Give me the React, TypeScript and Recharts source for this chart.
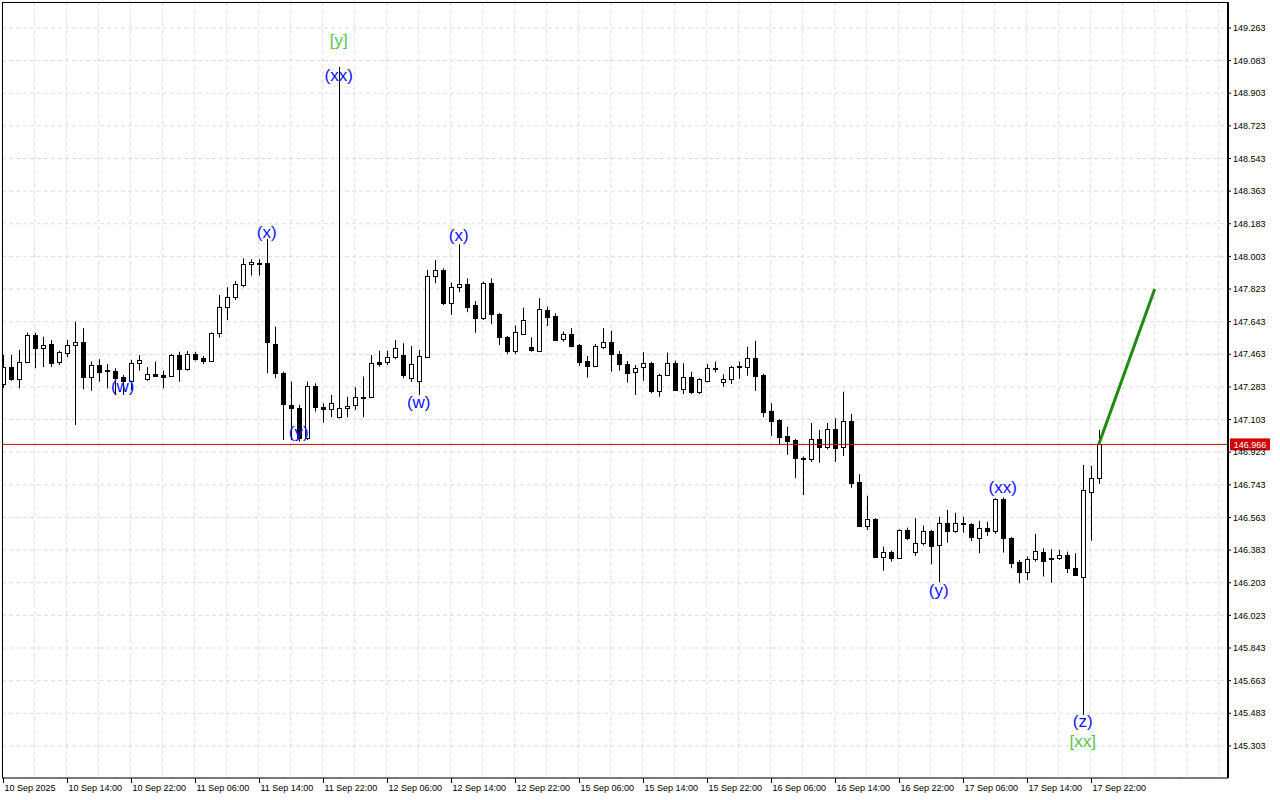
import React from "react"
import {
  ComposedChart,
  Bar,
  Scatter,
  XAxis,
  YAxis,
  CartesianGrid,
  ReferenceLine,
} from "recharts"

// --- H1 candles, 10 Sep 06:00 .. 17 Sep 23:00 ---
const opens = [
  147.299, 147.392, 147.326, 147.423, 147.570, 147.496, 147.520, 147.423, 147.472, 147.512,
  147.529, 147.336, 147.404, 147.374, 147.371, 147.336, 147.317, 147.414, 147.326, 147.353,
  147.349, 147.345, 147.459, 147.382, 147.463, 147.441, 147.426, 147.579, 147.722, 147.777,
  147.845, 147.960, 147.968, 147.965, 147.520, 147.362, 147.184, 147.165, 147.000, 147.288,
  147.171, 147.160, 147.119, 147.165, 147.184, 147.224, 147.229, 147.419, 147.419, 147.446,
  147.459, 147.332, 147.316, 147.450, 147.895, 147.928, 147.748, 147.836, 147.849, 147.735,
  147.665, 147.855, 147.684, 147.557, 147.483, 147.577, 147.502, 147.483, 147.708, 147.675,
  147.546, 147.575, 147.514, 147.426, 147.400, 147.505, 147.529, 147.463, 147.410, 147.364,
  147.392, 147.415, 147.262, 147.349, 147.414, 147.270, 147.336, 147.254, 147.317, 147.382,
  147.312, 147.329, 147.399, 147.395, 147.441, 147.349, 147.151, 147.101, 147.013, 146.990,
  146.893, 146.888, 146.994, 146.954, 147.049, 146.950, 147.095, 146.757, 146.518, 146.553,
  146.347, 146.371, 146.338, 146.494, 146.371, 146.421, 146.489, 146.411, 146.531, 146.490,
  146.531, 146.526, 146.448, 146.507, 146.490, 146.663, 146.448, 146.316, 146.264, 146.332,
  146.373, 146.340, 146.338, 146.356, 146.286, 146.236, 146.702, 146.779,
]
const highs = [
  147.459, 147.459, 147.487, 147.582, 147.581, 147.560, 147.542, 147.483, 147.542, 147.643,
  147.607, 147.423, 147.436, 147.410, 147.386, 147.349, 147.432, 147.459, 147.392, 147.423,
  147.373, 147.465, 147.477, 147.481, 147.477, 147.454, 147.584, 147.790, 147.833, 147.867,
  147.993, 147.987, 147.987, 148.100, 147.615, 147.367, 147.312, 147.184, 147.312, 147.303,
  147.193, 147.239, 149.048, 147.229, 147.281, 147.340, 147.459, 147.483, 147.483, 147.542,
  147.524, 147.509, 147.487, 147.928, 147.983, 147.937, 147.858, 148.070, 147.882, 147.757,
  147.864, 147.882, 147.691, 147.564, 147.621, 147.720, 147.557, 147.772, 147.726, 147.689,
  147.588, 147.607, 147.520, 147.454, 147.520, 147.607, 147.592, 147.481, 147.426, 147.404,
  147.474, 147.421, 147.355, 147.472, 147.428, 147.414, 147.367, 147.332, 147.410, 147.423,
  147.353, 147.399, 147.423, 147.505, 147.537, 147.355, 147.193, 147.105, 147.064, 146.996,
  146.899, 147.084, 147.046, 147.084, 147.110, 147.257, 147.134, 146.801, 146.682, 146.559,
  146.402, 146.380, 146.498, 146.507, 146.559, 146.518, 146.494, 146.567, 146.604, 146.589,
  146.567, 146.531, 146.545, 146.540, 146.669, 146.674, 146.455, 146.329, 146.347, 146.472,
  146.393, 146.388, 146.384, 146.374, 146.366, 146.853, 146.847, 147.046,
]
const lows = [
  147.277, 147.317, 147.275, 147.414, 147.386, 147.392, 147.392, 147.404, 147.446, 147.073,
  147.270, 147.262, 147.312, 147.275, 147.239, 147.239, 147.266, 147.373, 147.317, 147.340,
  147.275, 147.340, 147.312, 147.373, 147.428, 147.410, 147.423, 147.555, 147.652, 147.763,
  147.833, 147.897, 147.897, 147.358, 147.331, 146.990, 146.990, 146.981, 146.990, 147.147,
  147.086, 147.116, 147.110, 147.116, 147.156, 147.116, 147.221, 147.395, 147.404, 147.436,
  147.331, 147.310, 147.239, 147.443, 147.855, 147.735, 147.680, 147.805, 147.695, 147.582,
  147.652, 147.629, 147.514, 147.465, 147.465, 147.573, 147.477, 147.477, 147.619, 147.537,
  147.533, 147.502, 147.399, 147.334, 147.392, 147.492, 147.367, 147.373, 147.307, 147.239,
  147.317, 147.248, 147.229, 147.345, 147.262, 147.244, 147.244, 147.244, 147.309, 147.362,
  147.284, 147.299, 147.327, 147.345, 147.261, 147.116, 147.013, 146.967, 146.908, 146.779,
  146.687, 146.869, 146.865, 146.939, 146.869, 146.902, 146.727, 146.513, 146.494, 146.342,
  146.269, 146.319, 146.334, 146.439, 146.351, 146.408, 146.305, 146.205, 146.424, 146.479,
  146.479, 146.433, 146.366, 146.461, 146.472, 146.369, 146.283, 146.200, 146.218, 146.319,
  146.237, 146.203, 146.329, 146.257, 146.240, 145.474, 146.435, 146.748,
]
const closes = [
  147.392, 147.326, 147.423, 147.570, 147.496, 147.512, 147.417, 147.474, 147.514, 147.529,
  147.340, 147.404, 147.367, 147.369, 147.331, 147.317, 147.414, 147.432, 147.355, 147.341,
  147.340, 147.459, 147.382, 147.465, 147.437, 147.428, 147.579, 147.722, 147.777, 147.849,
  147.960, 147.971, 147.963, 147.529, 147.358, 147.189, 147.165, 147.000, 147.288, 147.171,
  147.160, 147.193, 147.165, 147.180, 147.229, 147.229, 147.414, 147.410, 147.446, 147.496,
  147.349, 147.410, 147.454, 147.895, 147.928, 147.748, 147.836, 147.849, 147.726, 147.665,
  147.855, 147.684, 147.557, 147.483, 147.584, 147.651, 147.487, 147.711, 147.671, 147.542,
  147.575, 147.510, 147.423, 147.400, 147.509, 147.529, 147.463, 147.408, 147.362, 147.389,
  147.415, 147.262, 147.349, 147.414, 147.266, 147.336, 147.254, 147.326, 147.386, 147.388,
  147.329, 147.392, 147.392, 147.441, 147.345, 147.147, 147.097, 147.009, 146.985, 146.893,
  146.884, 146.994, 146.954, 147.049, 146.948, 147.097, 146.755, 146.518, 146.553, 146.347,
  146.371, 146.338, 146.494, 146.448, 146.421, 146.489, 146.408, 146.531, 146.490, 146.531,
  146.534, 146.454, 146.507, 146.490, 146.663, 146.448, 146.314, 146.264, 146.334, 146.378,
  146.325, 146.332, 146.355, 146.283, 146.246, 146.715, 146.779, 146.966,
]

// one label every 8 bars
const timeLabels = [
  "10 Sep 2025", "10 Sep 14:00", "10 Sep 22:00", "11 Sep 06:00", "11 Sep 14:00",
  "11 Sep 22:00", "12 Sep 06:00", "12 Sep 14:00", "12 Sep 22:00", "15 Sep 06:00",
  "15 Sep 14:00", "15 Sep 22:00", "16 Sep 06:00", "16 Sep 14:00", "16 Sep 22:00",
  "17 Sep 06:00", "17 Sep 14:00", "17 Sep 22:00",
]

const priceTicks = [
  145.303, 145.483, 145.663, 145.843, 146.023, 146.203, 146.383, 146.563, 146.743, 146.923,
  147.103, 147.283, 147.463, 147.643, 147.823, 148.003, 148.183, 148.363, 148.543, 148.723,
  148.903, 149.083, 149.263,
]

const lastPrice = 146.966
const projection = [
  { i: 137, price: 146.966 },
  { i: 144, price: 147.823 },
]

// wave marks: minor = (..) blue, major = [..] green
const waveLabels = [
  { i: 15, price: 147.288, text: "(w)", kind: "minor" },
  { i: 33, price: 148.132, text: "(x)", kind: "minor" },
  { i: 37, price: 147.029, text: "(y)", kind: "minor" },
  { i: 42, price: 149.191, text: "[y]", kind: "major" },
  { i: 42, price: 148.998, text: "(xx)", kind: "minor" },
  { i: 52, price: 147.195, text: "(w)", kind: "minor" },
  { i: 57, price: 148.116, text: "(x)", kind: "minor" },
  { i: 117, price: 146.158, text: "(y)", kind: "minor" },
  { i: 125, price: 146.731, text: "(xx)", kind: "minor" },
  { i: 135, price: 145.435, text: "(z)", kind: "minor" },
  { i: 135, price: 145.33, text: "[xx]", kind: "major" },
]

const candles = opens.map((o, i) => ({
  i,
  o,
  h: highs[i],
  l: lows[i],
  c: closes[i],
  range: [lows[i], highs[i]],
}))

const gridTicks = Array.from({ length: 39 }, (_, k) => k * 4)

const FONT = "'Liberation Sans', Arial, sans-serif"

const Candle = (props: any) => {
  const { x, y, width, height, payload } = props
  if (x == null || !payload) return null
  const { o, h, l, c } = payload
  const cx = Math.round(x + width / 2)
  const k = h > l ? height / (h - l) : 0
  const top = Math.round(y + (h - Math.max(o, c)) * k)
  const bot = Math.max(Math.round(y + (h - Math.min(o, c)) * k), top + 1)
  const bull = c >= o
  return (
    <g>
      <line x1={cx + 0.5} x2={cx + 0.5} y1={y} y2={y + height} stroke="#000" strokeWidth={1} />
      <rect
        x={cx - 1.5}
        y={top + 0.5}
        width={4}
        height={bot - top}
        fill={bull ? "#fff" : "#000"}
        stroke="#000"
        strokeWidth={1}
      />
    </g>
  )
}

const TimeTick = (props: any) => {
  const { x, y, payload } = props
  const v = payload?.value
  if (v == null || v % 8 !== 0) return <g />
  const label = timeLabels[v / 8]
  if (!label) return <g />
  const tx = Math.round(x) + 0.5
  return (
    <g>
      <line x1={tx} x2={tx} y1={y} y2={y + 5} stroke="#000" />
      <text x={tx + 1} y={y + 13} fontSize={9} fontFamily={FONT} fill="#000">
        {label}
      </text>
    </g>
  )
}

const WaveMark = (props: any) => {
  const { cx, cy, payload } = props
  if (cx == null) return <g />
  return (
    <text
      x={cx}
      y={cy}
      textAnchor="middle"
      dominantBaseline="central"
      fontSize={17}
      fontFamily={FONT}
      fill={payload.kind === "major" ? "#55c84a" : "#1010ff"}
    >
      {payload.text}
    </text>
  )
}

const PriceTag = (props: any) => {
  const vb = props.viewBox
  if (!vb) return <g />
  const x = vb.x + vb.width + 2
  const y = vb.y
  return (
    <g>
      <rect x={x} y={y - 6} width={40} height={12} fill="#d40000" />
      <text
        x={x + 20}
        y={y + 0.5}
        textAnchor="middle"
        dominantBaseline="central"
        fontSize={9}
        fontFamily={FONT}
        fill="#fff"
      >
        {lastPrice.toFixed(3)}
      </text>
    </g>
  )
}

export default function App() {
  return (
    <div style={{ position: "fixed", left: 0, top: 0, width: 1280, height: 800, background: "#fff" }}>
      <ComposedChart
        width={1280}
        height={800}
        data={candles}
        margin={{ top: 2, right: 0, bottom: 0, left: 2 }}
      >
        <CartesianGrid stroke="#dcdcdc" strokeDasharray="4 3" />
        <XAxis
          type="number"
          dataKey="i"
          domain={[-0.0875, 153.16]}
          allowDataOverflow
          ticks={gridTicks}
          interval={0}
          tickLine={false}
          tickSize={0}
          tickMargin={0}
          height={22}
          axisLine={{ stroke: "#000" }}
          tick={<TimeTick />}
        />
        <YAxis
          orientation="right"
          domain={[145.126, 149.406]}
          allowDataOverflow
          ticks={priceTicks}
          interval={0}
          width={52}
          axisLine={{ stroke: "#000", strokeWidth: 2 }}
          tickLine={{ stroke: "#000" }}
          tickSize={3}
          tickMargin={2}
          tick={{ fontSize: 9, fill: "#000", fontFamily: FONT }}
          tickFormatter={(v: number) => v.toFixed(3)}
        />
        <ReferenceLine
          y={lastPrice}
          stroke="#d40000"
          strokeWidth={1}
          label={<PriceTag />}
          ifOverflow="visible"
        />
        <Bar dataKey="range" barSize={6} shape={<Candle />} isAnimationActive={false} />
        <ReferenceLine
          segment={projection.map((p) => ({ x: p.i, y: p.price }))}
          stroke="#1e8a12"
          strokeWidth={3}
          ifOverflow="visible"
        />
        <Scatter data={waveLabels} dataKey="price" shape={<WaveMark />} isAnimationActive={false} />
      </ComposedChart>
      <div
        style={{
          position: "absolute",
          left: 2,
          top: 2,
          width: 1226,
          height: 776,
          borderLeft: "1px solid #000",
          borderTop: "1px solid #000",
          boxSizing: "border-box",
          pointerEvents: "none",
        }}
      />
    </div>
  )
}
